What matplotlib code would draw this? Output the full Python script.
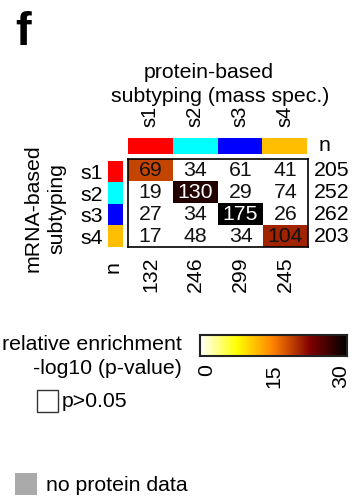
import numpy as np
import matplotlib
matplotlib.use("Agg")
import matplotlib.pyplot as plt
from matplotlib.colors import LinearSegmentedColormap, ListedColormap
from matplotlib.patches import Rectangle
from matplotlib.transforms import blended_transform_factory

plt.rcParams['font.family'] = ['Liberation Sans', 'DejaVu Sans']

# ---------------- data ----------------
subtypes = ['s1', 's2', 's3', 's4']
subtype_colors = ['#FF0000', '#00FFFF', '#0000FF', '#FFBF00']
counts = [[69, 34, 61, 41],
          [19, 130, 29, 74],
          [27, 34, 175, 26],
          [17, 48, 34, 104]]
row_n = [205, 252, 262, 203]
col_n = [132, 246, 299, 245]
# -log10(p-value) of enrichment; NaN = p>0.05 (drawn white)
neglog10p = [[18.5, np.nan, np.nan, np.nan],
             [np.nan, 28.0, np.nan, np.nan],
             [np.nan, np.nan, 30.0, np.nan],
             [np.nan, np.nan, np.nan, 20.5]]
cbar_ticks = [0, 15, 30]

# ---------------- layout helpers ----------------
W, H = 355, 498
fig = plt.figure(figsize=(W / 100, H / 100), dpi=100)


def add_ax(x0, y0, x1, y1):
    return fig.add_axes([x0 / W, 1 - y1 / H, (x1 - x0) / W, (y1 - y0) / H])


def ftext(x, y, s, **kw):
    fig.text(x / W, 1 - y / H, s, **kw)


cmap = LinearSegmentedColormap.from_list(
    'enrich', [(0.0, '#FFFFFF'), (0.25, '#FFFF00'), (0.5, '#FF8000'),
               (0.75, '#800000'), (1.0, '#000000')])
cmap.set_bad('white')

FS = 15.3
FS_S = 14.5

# ---------------- heatmap ----------------
ax = add_ax(128, 159, 308, 247)
data = np.ma.masked_invalid(np.array(neglog10p, dtype=float))
ax.pcolormesh(np.arange(5), np.arange(5), data, cmap=cmap, vmin=0, vmax=30,
              edgecolors='none')
ax.set_xlim(0, 4)
ax.set_ylim(4, 0)
for i in range(4):
    for j in range(4):
        v = neglog10p[i][j]
        col = 'white' if (not np.isnan(v) and v > 25) else '#111111'
        ax.text(j + 0.5, i + 0.52, str(counts[i][j]), ha='center', va='center',
                fontsize=FS, color=col)
for s in ax.spines.values():
    s.set_linewidth(1.2)
    s.set_color('black')
ax.set_yticks([])
ax.set_xticks(np.arange(4) + 0.5)
ax.set_xticklabels([str(v) for v in col_n], rotation=90, fontsize=FS, va='top')
ax.tick_params(axis='x', length=0, pad=7)
tr = blended_transform_factory(ax.transAxes, ax.transData)
for i, v in enumerate(row_n):
    ax.text(1 + 6 / 180, i + 0.52, str(v), transform=tr, ha='left', va='center',
            fontsize=FS)

# ---------------- column colour bar ----------------
axc = add_ax(128, 138, 307, 154)
axc.pcolormesh(np.arange(5), [0, 1], np.arange(4)[None, :],
               cmap=ListedColormap(subtype_colors), vmin=0, vmax=3)
axc.set_xlim(0, 4)
axc.set_ylim(0, 1)
for s in axc.spines.values():
    s.set_visible(False)
axc.set_yticks([])
axc.xaxis.tick_top()
axc.set_xticks(np.arange(4) + 0.5)
axc.set_xticklabels(subtypes, rotation=90, fontsize=FS_S, va='bottom')
axc.tick_params(axis='x', length=0, pad=8)
axc.text(1 + 18 / 179, 0.55, 'n', transform=axc.transAxes, ha='center',
         va='center', fontsize=FS)

# ---------------- row colour bar ----------------
axr = add_ax(108, 161, 123, 247)
axr.pcolormesh([0, 1], np.arange(5), np.arange(4)[:, None],
               cmap=ListedColormap(subtype_colors), vmin=0, vmax=3)
axr.set_xlim(0, 1)
axr.set_ylim(4, 0)
for s in axr.spines.values():
    s.set_visible(False)
axr.set_xticks([])
axr.set_yticks(np.arange(4) + 0.5)
axr.set_yticklabels(subtypes, fontsize=FS)
axr.tick_params(axis='y', length=0, pad=4)
axr.text(0.33, 4.95, 'n', transform=axr.transData, rotation=90, ha='center',
         va='center', fontsize=FS)

# ---------------- titles ----------------
ftext(15, 45, 'f', fontsize=34, fontweight='bold', ha='left', va='baseline')
ftext(209, 72, 'protein-based', fontsize=FS, ha='center', va='center')
ftext(220, 97, 'subtyping (mass spec.)', fontsize=FS, ha='center', va='center')
ftext(33, 208, 'mRNA-based', fontsize=FS, rotation=90, ha='center', va='center')
ftext(57, 209, 'subtyping', fontsize=FS, rotation=90, ha='center', va='center')

# ---------------- colour legend ----------------
axb = add_ax(200, 335, 347, 356)
grad = np.linspace(0, 30, 256)[None, :]
axb.imshow(grad, cmap=cmap, vmin=0, vmax=30, aspect='auto',
           extent=[-1.5, 31.5, 0, 1])
axb.set_xlim(-1.5, 31.5)
axb.set_ylim(0, 1)
axb.set_yticks([])
axb.set_xticks(cbar_ticks)
axb.set_xticklabels([str(t) for t in cbar_ticks], rotation=90, fontsize=FS, va='top')
axb.tick_params(axis='x', length=0, pad=6)
for s in axb.spines.values():
    s.set_linewidth(1.5)
    s.set_color('#222222')

ftext(182, 344, 'relative enrichment', fontsize=FS, ha='right', va='center')
ftext(182, 368, '-log10 (p-value)', fontsize=FS, ha='right', va='center')

fig.patches.append(Rectangle((37 / W, 1 - 412 / H), 21 / W, 22 / H,
                             transform=fig.transFigure, facecolor='white',
                             edgecolor='#333333', linewidth=1.0))
ftext(62, 401, 'p>0.05', fontsize=FS, ha='left', va='center')

fig.patches.append(Rectangle((15 / W, 1 - 495 / H), 22 / W, 22 / H,
                             transform=fig.transFigure, facecolor='#AAAAAA',
                             edgecolor='none'))
ftext(46, 485, 'no protein data', fontsize=FS, ha='left', va='center')

fig.savefig('out.png', dpi=100)
